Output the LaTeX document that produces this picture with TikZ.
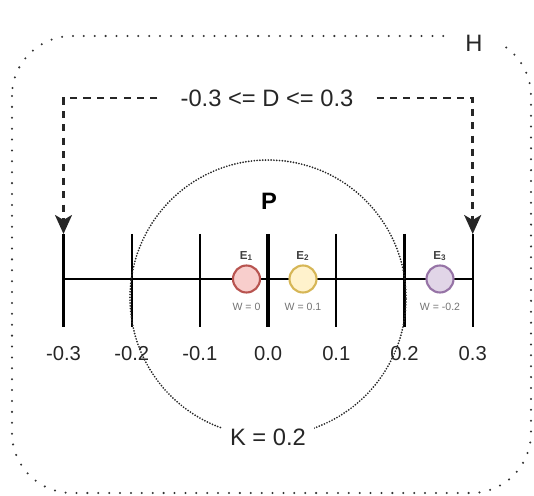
\documentclass[tikz,border=0pt]{standalone}
\usepackage{fontspec}
\setmainfont{Liberation Sans}
\usetikzlibrary{arrows.meta, calc}
\definecolor{eredf}{HTML}{F8CECC}
\definecolor{eredd}{HTML}{B85450}
\definecolor{eyelf}{HTML}{FFF2CC}
\definecolor{eyeld}{HTML}{D6B656}
\definecolor{epurf}{HTML}{E1D5E7}
\definecolor{epurd}{HTML}{9673A6}

\begin{document}
\begin{tikzpicture}[x=0.02cm, y=-0.02cm,
          tk/.style={line width=1.2pt},
          tklbl/.style={font=\fontsize{11.5}{12}\selectfont, text=black!85},
          big/.style={font=\fontsize{13.5}{15}\selectfont, text=black!85},
          ent/.style={circle, draw, line width=1.2pt, minimum size=0.54cm, inner sep=0pt},
          elbl/.style={font=\fontsize{6.6}{7}\selectfont\bfseries, text=black!75},
          wlbl/.style={font=\fontsize{6}{7}\selectfont, text=black!55},
          darr/.style={-{Stealth[length=0.38cm, width=0.34cm, inset=0.1cm]},
                       line width=1.5pt, dash pattern=on 4pt off 3.6pt, black!85}]
        \useasboundingbox (0,0) rectangle (534,496);
        % outer box H
        \draw[line width=1.3pt, line cap=round, dash pattern=on 0pt off 6.2pt,
              rounded corners=1.2cm, black!80] (12,36) rectangle (531,493);
        \node[big, fill=white, minimum width=1.1cm, minimum height=0.5cm] (h) at (474,43) {H};
        % axis
        \foreach \v [count=\i from 0] in {-0.3,-0.2,-0.1,0.0,0.1,0.2,0.3} {
          \coordinate (t\i) at ({63.5+68.2*\i},279);
          \coordinate (tt\i) at ({63.5+68.2*\i},234);
          \draw[tk] (tt\i) -- ++(0,93);
          \node[tklbl] (l\i) at ({63.5+68.2*\i},354) {\v};
        }
        \draw[line width=2.4pt] (tt3) -- ++(0,93);
        \draw[tk] (t0) -- (t6);
        \node[font=\fontsize{13.5}{15}\selectfont\bfseries] (p) at (269,201) {P};
        % radius K
        \draw[line width=1.1pt, line cap=round, dash pattern=on 0pt off 1.6pt, black!85]
          (268,298) circle (2.76cm);
        \node[big, fill=white, inner xsep=0.16cm] (k) at (268,437) {K = 0.2};
        % entities
        \node[ent, fill=eredf, draw=eredd] (e1) at (246.5,279) {};
        \node[ent, fill=eyelf, draw=eyeld] (e2) at (303,279) {};
        \node[ent, fill=epurf, draw=epurd] (e3) at (440,279) {};
        \node[elbl] at (246.5,256) {E\textsubscript{1}};
        \node[elbl] at (303,256) {E\textsubscript{2}};
        \node[elbl] at (440,256) {E\textsubscript{3}};
        \node[wlbl] at (246.5,307) {W = 0};
        \node[wlbl] at (303,307) {W = 0.1};
        \node[wlbl] at (440,307) {W = -0.2};
        % range D
        \node[big, inner xsep=0.46cm] (d) at (267,98) {-0.3 <= D <= 0.3};
        \draw[darr] (d) -| (tt0);
        \draw[darr] (d) -| (tt6);
      \end{tikzpicture}
\end{document}
